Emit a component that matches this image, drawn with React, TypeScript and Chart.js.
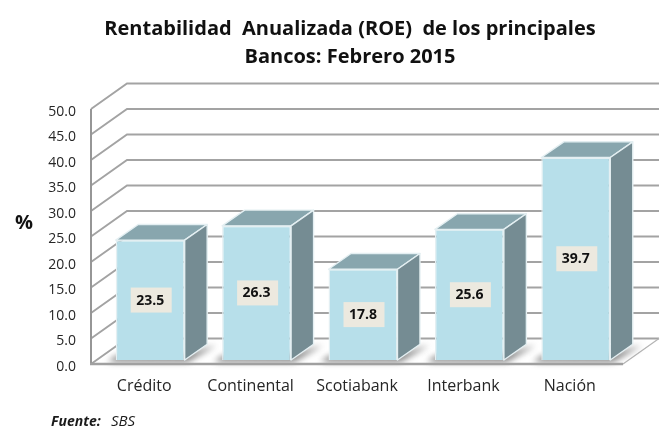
import React, { useEffect, useRef } from "react";
import { Chart, registerables } from "chart.js";

Chart.register(...registerables);

const categories = ["Crédito", "Continental", "Scotiabank", "Interbank", "Nación"];
const roeValues = [23.5, 26.3, 17.8, 25.6, 39.7];
const valueLabels = ["23.5", "26.3", "17.8", "25.6", "39.7"];
const titleLines = ["Rentabilidad  Anualizada (ROE)  de los principales", "Bancos: Febrero 2015"];
const yAxisUnit = "%";
const sourceBold = "Fuente:";
const sourceName = "SBS";

const FONT = '"Open Sans", sans-serif';
const WALL = { dx: 36, dy: 25.5 };
const BAR_SHIFT = { dx: 6, dy: -4 };
const DEPTH = { dx: 22.5, dy: 15.7 };

const scene3d = {
  id: "scene3d",
  beforeDatasetsDraw(chart: any) {
    const { ctx, chartArea: a } = chart;
    const y = chart.scales.y;
    ctx.save();
    // grid on walls
    ctx.strokeStyle = "#a3a3a3";
    ctx.lineWidth = 1.9;
    y.ticks.forEach((t: any) => {
      const py = y.getPixelForValue(t.value);
      ctx.beginPath();
      ctx.moveTo(a.left, py);
      ctx.lineTo(a.left + WALL.dx, py - WALL.dy);
      ctx.lineTo(a.right + WALL.dx, py - WALL.dy);
      ctx.stroke();
    });
    // left wall edge
    ctx.strokeStyle = "#969696";
    ctx.lineWidth = 2;
    ctx.beginPath();
    ctx.moveTo(a.left, a.top);
    ctx.lineTo(a.left, a.bottom);
    ctx.stroke();
    // floor right edge
    ctx.strokeStyle = "#b4b4b4";
    ctx.lineWidth = 1.2;
    ctx.beginPath();
    ctx.moveTo(a.right, a.bottom);
    ctx.lineTo(a.right + WALL.dx, a.bottom - WALL.dy);
    ctx.stroke();

    const meta = chart.getDatasetMeta(0);
    meta.data.forEach((bar: any) => {
      const hw = bar.width / 2;
      const l = bar.x - hw + BAR_SHIFT.dx;
      const r = bar.x + hw + BAR_SHIFT.dx;
      const top = bar.y + BAR_SHIFT.dy;
      const bottom = bar.base + BAR_SHIFT.dy;
      // floor shadow
      ctx.save();
      ctx.filter = "blur(3px)";
      ctx.fillStyle = "rgba(90,90,90,0.75)";
      ctx.beginPath();
      ctx.moveTo(l - 8, bottom + 2);
      ctx.lineTo(r + 3, bottom + 2);
      ctx.lineTo(r + DEPTH.dx + 9, bottom - DEPTH.dy + 1);
      ctx.lineTo(r, bottom - 6);
      ctx.lineTo(l, bottom - 4);
      ctx.closePath();
      ctx.fill();
      ctx.restore();
      ctx.strokeStyle = "#e4eff2";
      ctx.lineWidth = 1.4;
      ctx.lineJoin = "round";
      // top face
      ctx.fillStyle = "#88a6ae";
      ctx.beginPath();
      ctx.moveTo(l, top);
      ctx.lineTo(r, top);
      ctx.lineTo(r + DEPTH.dx, top - DEPTH.dy);
      ctx.lineTo(l + DEPTH.dx, top - DEPTH.dy);
      ctx.closePath();
      ctx.fill();
      ctx.stroke();
      // side face
      ctx.fillStyle = "#758c93";
      ctx.beginPath();
      ctx.moveTo(r, top);
      ctx.lineTo(r + DEPTH.dx, top - DEPTH.dy);
      ctx.lineTo(r + DEPTH.dx, bottom - DEPTH.dy);
      ctx.lineTo(r, bottom);
      ctx.closePath();
      ctx.fill();
      ctx.stroke();
    });
    // front floor edge
    ctx.strokeStyle = "#a0a0a0";
    ctx.lineWidth = 2.4;
    ctx.beginPath();
    ctx.moveTo(a.left - 1, a.bottom);
    ctx.lineTo(a.right, a.bottom);
    ctx.stroke();
    ctx.restore();
    // the library's own bars are the front faces
    ctx.save();
    ctx.translate(BAR_SHIFT.dx, BAR_SHIFT.dy);
  },
  afterDatasetsDraw(chart: any) {
    const { ctx } = chart;
    ctx.restore();
    const meta = chart.getDatasetMeta(0);
    ctx.save();
    ctx.font = `bold 14px ${FONT}`;
    ctx.textAlign = "center";
    ctx.textBaseline = "middle";
    meta.data.forEach((bar: any, i: number) => {
      const cx = bar.x + BAR_SHIFT.dx + 0.5;
      const cy = (bar.y + bar.base) / 2 + BAR_SHIFT.dy;
      ctx.fillStyle = "#ece9df";
      ctx.fillRect(cx - 20, cy - 12.5, 41, 25);
      ctx.fillStyle = "#111111";
      ctx.fillText(valueLabels[i], cx - 0.5, cy + 0.5);
    });
    ctx.restore();
  },
  afterDraw(chart: any) {
    const { ctx } = chart;
    ctx.save();
    ctx.fillStyle = "#111111";
    ctx.textBaseline = "alphabetic";
    ctx.font = `bold 20px ${FONT}`;
    ctx.fillText(yAxisUnit, 15, 229);
    ctx.fillStyle = "#1a1a1a";
    ctx.font = `italic bold 14px ${FONT}`;
    ctx.fillText(sourceBold, 51, 426);
    ctx.font = `italic 15px ${FONT}`;
    ctx.fillText(sourceName, 111, 426);
    ctx.restore();
  },
};

export default function App() {
  const ref = useRef<HTMLCanvasElement>(null);
  useEffect(() => {
    document.body.style.margin = "0";
    const chart = new Chart(ref.current as HTMLCanvasElement, {
      type: "bar",
      data: {
        labels: categories,
        datasets: [
          {
            data: roeValues,
            backgroundColor: "#b7dfea",
            borderColor: "#e4eff2",
            borderWidth: 1.4,
            barPercentage: 0.648,
            categoryPercentage: 1,
            yAxisID: "y",
          },
        ],
      },
      options: {
        animation: false,
        responsive: false,
        layout: { padding: { left: 35, right: 0, top: 0, bottom: 0 } },
        plugins: {
          legend: { display: false },
          tooltip: { enabled: false },
          title: {
            display: true,
            text: titleLines,
            color: "#111111",
            font: { family: FONT, size: 20, weight: "bold", lineHeight: 1.4 },
            padding: { top: 15, bottom: 38 },
          },
        },
        scales: {
          x: {
            grid: { display: false },
            border: { display: false },
            ticks: { color: "#262626", font: { family: FONT, size: 16 }, padding: 5, maxRotation: 0 },
            afterFit: (s: any) => { s.height = 64; },
          },
          y: {
            min: 0,
            max: 50,
            grid: { display: false },
            border: { display: false },
            ticks: {
              stepSize: 5,
              color: "#262626",
              font: { family: FONT, size: 14 },
              padding: 7,
              labelOffset: 3,
              callback: (v: any) => Number(v).toFixed(1),
            },
            afterFit: (s: any) => { s.width = 56; },
          },
          y2: {
            position: "right",
            display: true,
            min: 0,
            max: 50,
            grid: { display: false },
            border: { display: false },
            ticks: { display: false },
            afterFit: (s: any) => { s.width = 42; },
          },
        },
      },
      plugins: [scene3d],
    } as any);
    return () => chart.destroy();
  }, []);
  return (
    <div style={{ width: 665, height: 428, background: "#fff" }}>
      <canvas ref={ref} width={665} height={428} style={{ display: "block" }} />
    </div>
  );
}
